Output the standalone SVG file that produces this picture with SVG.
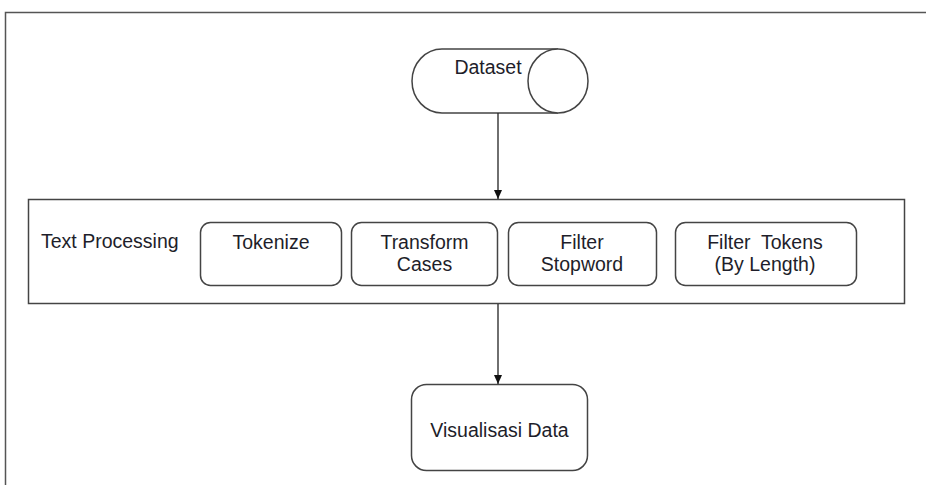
<svg xmlns="http://www.w3.org/2000/svg" width="926" height="485" viewBox="0 0 926 485">
<style>
.t{font-family:"Liberation Sans",Arial,sans-serif;font-size:19.5px;fill:#1e1e2a;text-anchor:middle}
.b{fill:#fff;stroke:#444;stroke-width:1.5}
.c{stroke:#222;stroke-width:1.3;fill:none}
</style>
<defs>
<marker id="ah" markerWidth="10" markerHeight="10" refX="9" refY="5" orient="auto" markerUnits="userSpaceOnUse">
<path d="M0,1 L9,5 L0,9 Z" fill="#111"/>
</marker>
</defs>
<rect x="0" y="0" width="926" height="485" fill="#fff"/>
<rect x="5.5" y="12.5" width="940" height="500" fill="none" stroke="#555" stroke-width="1.5"/>
<g id="dataset">
<path class="b" d="M558,49 L442,49 A30,32 0 0 0 442,113 L558,113"/>
<ellipse class="b" cx="558" cy="81" rx="30" ry="32"/>
<text class="t" x="488" y="74">Dataset</text>
</g>
<g id="text-processing">
<rect class="b" x="28.5" y="199.5" width="876" height="104"/>
<text class="t" x="41" y="248" style="text-anchor:start">Text Processing</text>
</g>
<g id="tokenize">
<rect class="b" x="200.5" y="222.5" width="141" height="63" rx="10"/>
<text class="t" x="271" y="249">Tokenize</text>
</g>
<g id="transform-cases">
<rect class="b" x="351.5" y="222.5" width="146" height="63" rx="10"/>
<text class="t" x="424.5" y="249">Transform</text>
<text class="t" x="424.5" y="271">Cases</text>
</g>
<g id="filter-stopword">
<rect class="b" x="508.5" y="222.5" width="148" height="63" rx="10"/>
<text class="t" x="582" y="249">Filter</text>
<text class="t" x="582" y="271">Stopword</text>
</g>
<g id="filter-tokens">
<rect class="b" x="675.5" y="222.5" width="181" height="63" rx="10"/>
<text class="t" x="765" y="249" xml:space="preserve">Filter  Tokens</text>
<text class="t" x="765" y="271">(By Length)</text>
</g>
<g id="visualisasi-data">
<rect class="b" x="411.5" y="384.5" width="176" height="86" rx="15"/>
<text class="t" x="499.5" y="437">Visualisasi Data</text>
</g>
<g id="connectors">
<line class="c" x1="498" y1="113" x2="498" y2="199" marker-end="url(#ah)"/>
<line class="c" x1="498" y1="304" x2="498" y2="384" marker-end="url(#ah)"/>
</g>
</svg>
